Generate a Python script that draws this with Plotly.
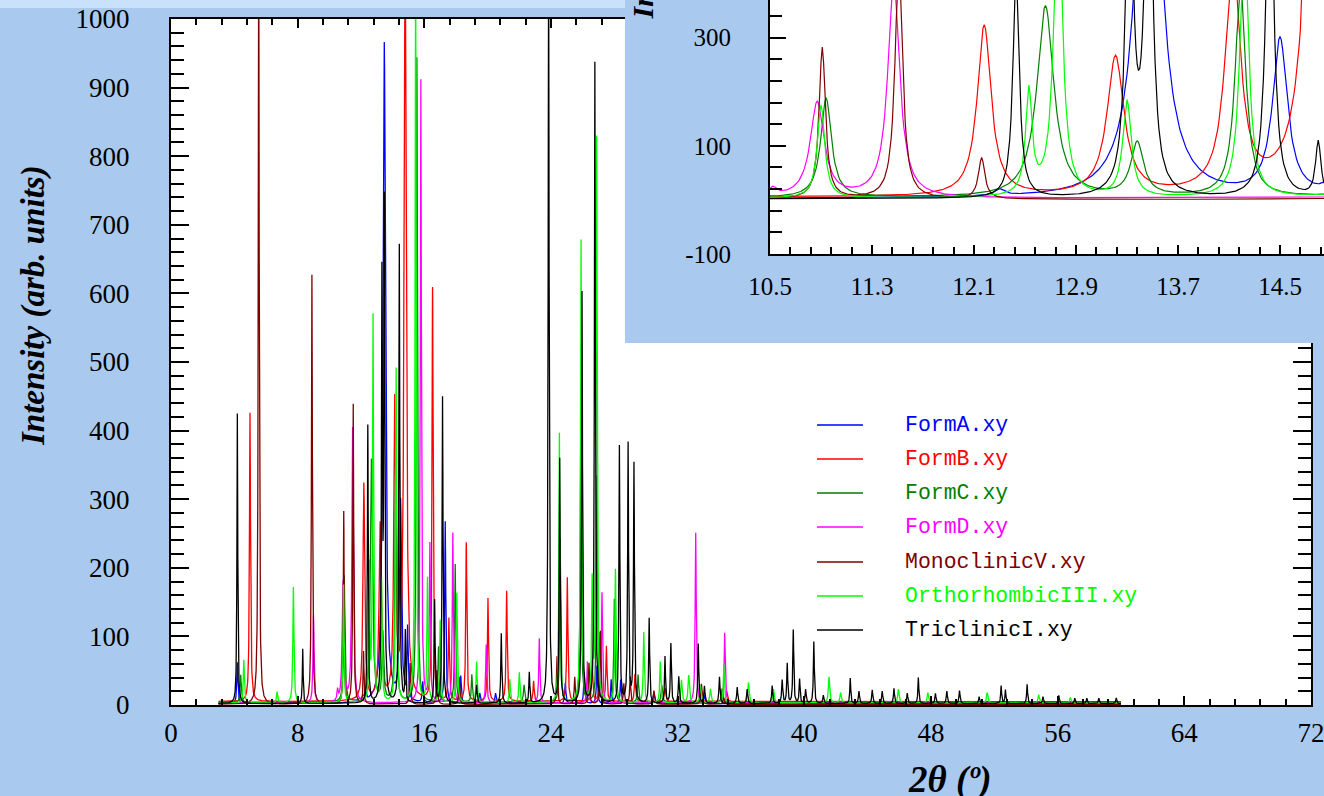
import numpy as np
import plotly.graph_objects as go

# ---------------- data (peak lists) ----------------
# each peak: (2-theta position, intensity, FWHM)
series_names = ["FormA.xy", "FormB.xy", "FormC.xy", "FormD.xy",
                "MonoclinicV.xy", "OrthorhombicIII.xy", "TriclinicI.xy"]
series_colors = ["#0000FF", "#FF0000", "#008000", "#FF00FF",
                 "#800000", "#00FF00", "#000000"]
series_baseline = [2, 5, 4, 3, 1, 3, 2]

formA_peaks = [(4.19, 60, 0.08), (12.3, 12, 0.1), (13.47, 963, 0.19), (14.50, 291, 0.14),
               (14.94, 104, 0.08), (15.9, 30, 0.08), (17.32, 265, 0.08), (18.3, 40, 0.08),
               (19.5, 15, 0.1), (20.5, 15, 0.1), (24.9, 30, 0.08), (26.1, 45, 0.08),
               (26.9, 55, 0.08), (27.8, 35, 0.08), (28.4, 35, 0.08), (30.5, 15, 0.1),
               (33.7, 12, 0.1)]
formB_peaks = [(4.99, 421, 0.08), (12.18, 316, 0.13), (13.21, 256, 0.16), (14.13, 430, 0.14),
               (14.79, 1100, 0.16), (16.52, 601, 0.08), (17.55, 120, 0.08), (18.65, 231, 0.08),
               (20.02, 150, 0.08), (21.2, 161, 0.08), (22.9, 30, 0.08), (25.03, 181, 0.08),
               (26.6, 60, 0.08), (27.1, 100, 0.08), (27.5, 80, 0.08), (29.3, 40, 0.08),
               (31.2, 20, 0.1), (35.1, 15, 0.1)]
formC_peaks = [(4.4, 40, 0.08), (10.94, 184, 0.10), (12.66, 354, 0.16), (13.38, 99, 0.12),
               (14.19, 395, 0.10), (15.53, 939, 0.08), (16.9, 80, 0.08), (17.95, 201, 0.08),
               (19.0, 40, 0.08), (22.3, 25, 0.1), (24.58, 238, 0.08), (25.88, 420, 0.08),
               (26.9, 330, 0.08), (28.0, 150, 0.08), (29.5, 40, 0.08), (31.0, 25, 0.1),
               (34.8, 20, 0.1)]
formD_peaks = [(9.0, 127, 0.08), (10.52, 15, 0.08), (10.87, 176, 0.13), (11.47, 400, 0.11),
               (15.78, 908, 0.08), (16.35, 230, 0.08), (17.8, 248, 0.08), (19.91, 85, 0.08),
               (23.26, 94, 0.08), (26.3, 60, 0.08), (27.22, 161, 0.08), (33.14, 248, 0.08),
               (34.97, 102, 0.08)]
monoV_peaks = [(5.54, 1150, 0.07), (8.9, 626, 0.07), (10.91, 280, 0.06), (11.51, 437, 0.07),
               (12.16, 76, 0.06), (15.1, 60, 0.08), (16.8, 50, 0.08), (18.2, 40, 0.08),
               (24.38, 70, 0.08), (25.5, 40, 0.08), (26.4, 60, 0.08), (27.12, 107, 0.08),
               (28.6, 30, 0.08), (29.0, 40, 0.08), (30.5, 20, 0.1), (33.5, 30, 0.1),
               (34.9, 10, 0.1)]
orthoIII_peaks = [(4.6, 63, 0.08), (6.7, 16, 0.08), (7.73, 169, 0.08), (10.90, 172, 0.07),
                  (12.53, 192, 0.06), (12.76, 563, 0.08), (13.30, 178, 0.08), (14.22, 487, 0.08),
                  (15.45, 1100, 0.08), (16.2, 180, 0.08), (17.0, 120, 0.08), (18.05, 160, 0.08),
                  (19.3, 60, 0.08), (21.4, 34, 0.08), (22.0, 44, 0.08), (24.53, 393, 0.08),
                  (25.9, 673, 0.08), (26.6, 170, 0.08), (26.88, 822, 0.08), (28.07, 194, 0.08),
                  (29.86, 103, 0.08), (30.9, 60, 0.08), (32.24, 33, 0.1), (32.7, 40, 0.1),
                  (33.44, 25, 0.1), (34.07, 20, 0.1), (34.92, 56, 0.08), (36.47, 30, 0.1),
                  (38.05, 20, 0.1), (41.56, 38, 0.1), (42.29, 15, 0.1), (45.94, 20, 0.1),
                  (47.8, 15, 0.1), (51.55, 15, 0.1), (54.8, 12, 0.1), (56.8, 8, 0.1)]
triclinicI_peaks = [(4.19, 423, 0.06), (8.32, 80, 0.06), (12.43, 405, 0.06),
                    (13.32, 606, 0.07), (13.47, 714, 0.07), (14.42, 668, 0.07), (14.80, 102, 0.05),
                    (16.65, 150, 0.07), (17.15, 447, 0.07), (19.3, 27, 0.08), (20.86, 102, 0.07),
                    (22.63, 45, 0.07), (23.85, 1100, 0.07), (24.55, 355, 0.07), (25.96, 599, 0.07),
                    (26.77, 934, 0.07), (28.32, 374, 0.07), (28.87, 377, 0.07), (29.24, 348, 0.07),
                    (30.2, 124, 0.07), (31.2, 68, 0.07), (31.57, 87, 0.07), (32.07, 39, 0.08),
                    (33.3, 87, 0.07), (33.69, 25, 0.08), (34.64, 39, 0.08), (35.76, 24, 0.08),
                    (36.39, 21, 0.08), (37.97, 26, 0.08), (38.6, 34, 0.08), (38.92, 58, 0.07),
                    (39.3, 107, 0.07), (39.7, 35, 0.07), (40.08, 20, 0.08), (40.6, 90, 0.07),
                    (41.2, 12, 0.08), (42.9, 37, 0.07), (43.45, 18, 0.08), (44.29, 20, 0.08),
                    (44.92, 18, 0.08), (45.66, 22, 0.08), (46.5, 15, 0.08), (47.2, 38, 0.07),
                    (48.28, 15, 0.08), (49.0, 18, 0.08), (49.8, 19, 0.08), (51.04, 10, 0.08),
                    (52.43, 26, 0.07), (52.7, 20, 0.07), (54.07, 28, 0.07), (55.07, 10, 0.08),
                    (56.07, 12, 0.08), (57.08, 8, 0.08), (57.84, 8, 0.08), (58.6, 8, 0.08),
                    (59.7, 8, 0.08)]

all_peaks = [formA_peaks, formB_peaks, formC_peaks, formD_peaks,
             monoV_peaks, orthoIII_peaks, triclinicI_peaks]

inset_y_ticks = [-100, 100, 300]
inset_y_labels = ["-100", "100", "300"]

# measurement grid (2-theta, degrees)
two_theta = np.round(np.arange(3.0, 60.0001, 0.01), 4)


def pattern(peaks, base):
    y = np.full_like(two_theta, float(base))
    for pos, h, w in peaks:
        g = w / 2.0
        y += h * g * g / ((two_theta - pos) ** 2 + g * g)
    return y


# ---------------- layout constants ----------------
W, H = 1324, 796
BLUE = "#A9CAEE"
SERIF = "Liberation Serif"
MONO = "Liberation Mono"


def px_x(p):
    return p / W


def px_y(p):
    return 1 - p / H


fig = go.Figure()

curves = [pattern(pk, b) for pk, b in zip(all_peaks, series_baseline)]

# main plot traces
for name, col, yv in zip(series_names, series_colors, curves):
    fig.add_trace(go.Scatter(x=two_theta, y=yv, mode="lines", name=name,
                             line=dict(color=col, width=1.3), showlegend=False,
                             xaxis="x", yaxis="y", hoverinfo="skip"))

# panel subplot (blue background of the inset)
fig.add_trace(go.Scatter(x=[None], y=[None], xaxis="x2", yaxis="y2",
                         showlegend=False, hoverinfo="skip"))

# inset traces
mask = (two_theta >= 10.3) & (two_theta <= 15.0)
for name, col, yv in zip(series_names, series_colors, curves):
    fig.add_trace(go.Scatter(x=two_theta[mask], y=yv[mask], mode="lines", name=name,
                             line=dict(color=col, width=1.2), showlegend=False,
                             xaxis="x3", yaxis="y3", hoverinfo="skip"))

main_x_dom = [px_x(171), px_x(1311)]
main_y_dom = [px_y(705), px_y(19)]
ins_x_dom = [px_x(770), 1.0]
ins_y_dom = [px_y(254), 1.0]
ins_x_max = 10.5 + (W - 770) / 127.5
ins_y_max = 300 + 38 / 0.545

axis_common = dict(showgrid=False, zeroline=False, showline=True, linecolor="black",
                   linewidth=2, ticks="inside", tickcolor="black", tickwidth=2,
                   automargin=False, ticklabeloverflow="allow")

fig.update_layout(
    width=W, height=H, autosize=False,
    margin=dict(l=0, r=0, t=0, b=0, pad=0),
    paper_bgcolor=BLUE, plot_bgcolor=BLUE,
    showlegend=False,
    xaxis=dict(domain=main_x_dom, range=[0, 72], tick0=0, dtick=8, ticklen=9,
               mirror="ticks", ticklabelstandoff=3,
               minor=dict(dtick=1.6, tick0=0, ticklen=6, tickwidth=1.5,
                          ticks="inside", tickcolor="black"),
               tickfont=dict(family=SERIF, size=27, color="black"), anchor="y",
               **axis_common),
    yaxis=dict(domain=main_y_dom, range=[0, 1000], tick0=0, dtick=100, ticklen=18,
               mirror="ticks", ticklabelstandoff=34,
               minor=dict(dtick=20, tick0=0, ticklen=13, tickwidth=1.5,
                          ticks="inside", tickcolor="black"),
               tickfont=dict(family=SERIF, size=27, color="black"), anchor="x",
               **axis_common),
    xaxis2=dict(domain=[px_x(625), 1.0], range=[0, 1], visible=False, anchor="y2",
                automargin=False),
    yaxis2=dict(domain=[px_y(343), 1.0], range=[0, 1], visible=False, anchor="x2",
                automargin=False),
    xaxis3=dict(domain=ins_x_dom, range=[10.5, ins_x_max], tick0=10.5, dtick=0.8,
                ticklen=9, mirror=False, ticklabelstandoff=9,
                minor=dict(dtick=0.16, tick0=10.5, ticklen=7, tickwidth=1.5,
                           ticks="inside", tickcolor="black"),
                tickfont=dict(family=SERIF, size=25, color="black"), anchor="y3",
                **axis_common),
    yaxis3=dict(domain=ins_y_dom, range=[-100, ins_y_max], tickmode="array",
                tickvals=inset_y_ticks, ticktext=inset_y_labels,
                ticklen=16, mirror=False, ticklabelstandoff=32,
                minor=dict(dtick=40, tick0=-100, ticklen=12, tickwidth=1.5,
                           ticks="inside", tickcolor="black"),
                tickfont=dict(family=SERIF, size=25, color="black"), anchor="x3",
                **axis_common),
)

shapes = [
    # light strip along the top
    dict(type="rect", xref="paper", yref="paper", x0=0, x1=px_x(625), y0=px_y(8), y1=1,
         fillcolor="#C9E1FA", line=dict(width=0), layer="below"),
    # white plotting area of the main chart
    dict(type="rect", xref="x", yref="y", x0=0, x1=72, y0=0, y1=1000,
         fillcolor="white", line=dict(width=0), layer="below"),
    # white plotting area of the inset
    dict(type="rect", xref="x3", yref="y3", x0=10.5, x1=ins_x_max, y0=-100, y1=ins_y_max,
         fillcolor="white", line=dict(width=0), layer="below"),
]

annotations = [
    dict(text="<b><i>Intensity (arb. units)</i></b>", xref="paper", yref="paper",
         x=px_x(33), y=px_y(306), textangle=-90, showarrow=False,
         font=dict(family=SERIF, size=33, color="black"), xanchor="center", yanchor="middle"),
    dict(text="<b><i>2θ (º)</i></b>", xref="paper", yref="paper",
         x=px_x(950), y=px_y(780), showarrow=False,
         font=dict(family=SERIF, size=37, color="black"), xanchor="center", yanchor="middle"),
    dict(text="<b><i>Intensity (arb. units)</i></b>", xref="paper", yref="paper",
         x=px_x(643), y=px_y(22), textangle=-90, showarrow=False,
         font=dict(family=SERIF, size=30, color="black"), xanchor="center", yanchor="bottom"),
]

legend_rows = [425, 459, 493, 527, 562, 596, 630]
for name, col, ry in zip(series_names, series_colors, legend_rows):
    shapes.append(dict(type="line", xref="paper", yref="paper", x0=px_x(817), x1=px_x(863),
                       y0=px_y(ry), y1=px_y(ry), line=dict(color=col, width=1.5), layer="above"))
    annotations.append(dict(text=name, xref="paper", yref="paper", x=px_x(903), y=px_y(ry),
                            xanchor="left", yanchor="middle", showarrow=False,
                            font=dict(family=MONO, size=21.5, color=col)))

fig.update_layout(shapes=shapes, annotations=annotations)

fig.write_html("out.html")
